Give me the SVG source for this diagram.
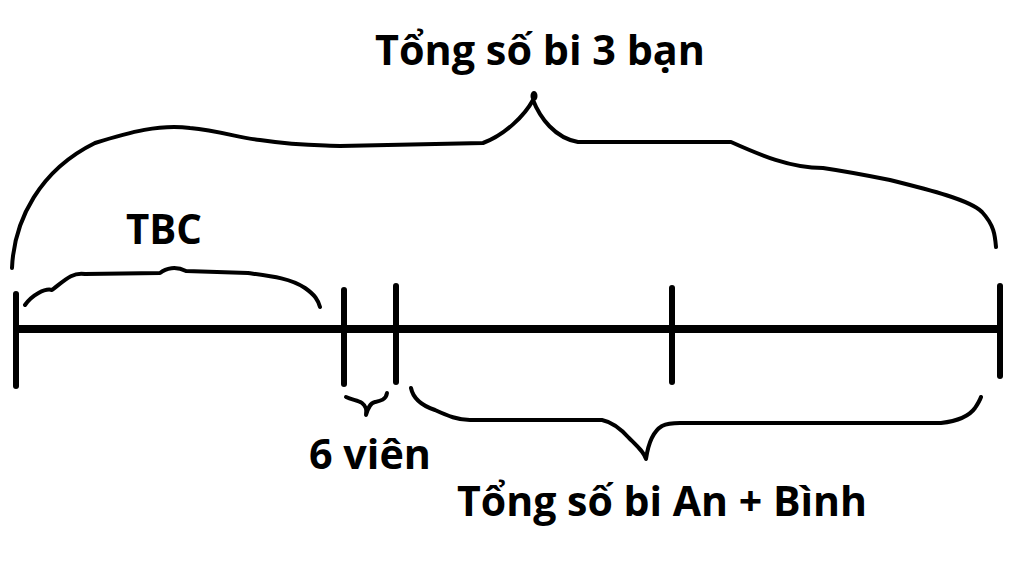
<svg xmlns="http://www.w3.org/2000/svg" width="1024" height="565" viewBox="0 0 1024 565">
<style>
.t{font-family:"Open Sans","Noto Sans",sans-serif;font-weight:700;font-size:42px;fill:#000}
.b{fill:none;stroke:#000;stroke-width:4;stroke-linecap:round;stroke-linejoin:round}
.k{stroke:#000;stroke-width:6;stroke-linecap:round}
</style>
<rect width="1024" height="565" fill="#fff"/>
<g id="labels">
<text class="t" x="375" y="65" textLength="330" lengthAdjust="spacingAndGlyphs">Tổng số bi 3 bạn</text>
<text class="t" x="126" y="244" textLength="76" lengthAdjust="spacingAndGlyphs">TBC</text>
<text class="t" x="309" y="469" textLength="122" lengthAdjust="spacingAndGlyphs">6 viên</text>
<text class="t" x="457" y="516" textLength="410" lengthAdjust="spacingAndGlyphs">Tổng số bi An + Bình</text>
</g>
<g id="segment">
<line x1="15" y1="329" x2="1000" y2="329" stroke="#000" stroke-width="8"/>
<line class="k" x1="16" y1="294" x2="16" y2="386"/>
<line class="k" x1="344" y1="290" x2="344" y2="384"/>
<line class="k" x1="396" y1="286" x2="396" y2="382"/>
<line class="k" x1="672" y1="288" x2="672" y2="382"/>
<line class="k" x1="1000" y1="286" x2="1000" y2="376"/>
</g>
<g id="connectors">
<path class="b" d="M12,268 C14,220 40,170 95,143 C130,132 160,124 190,128 C220,131 240,138 260,140 C300,146 320,145 340,146 L483,143 C505,135 525,115 533,100 C540,118 555,138 578,142 L731,142 C760,155 790,168 823,168 C850,172 870,176 890,180 C930,190 970,200 982,212 C994,225 995,235 996,247"/>
<ellipse cx="534" cy="96" rx="3.5" ry="5"/>
<path class="b" d="M25,305 C32,295 45,288 52,290 C65,280 72,272 85,274 L160,273 C166,268 176,266 186,271 L248,273 C270,276 290,278 305,288 C315,295 318,300 320,307"/>
<path class="b" d="M346,397 C352,400 358,400 362,403 C366,406 367,410 366,415 C368,408 370,403 375,402 C380,401 386,400 387,393"/>
<path class="b" d="M411,388 C413,398 420,405 435,410 C448,416 458,420 470,420 L602,420 C612,422 620,428 629,438 C637,446 644,452 646,459 C648,445 652,432 662,426 C666,424 670,423 680,423 L941,423 C958,421 970,415 975,408 C979,402 980,400 981,397"/>
</g>
</svg>
